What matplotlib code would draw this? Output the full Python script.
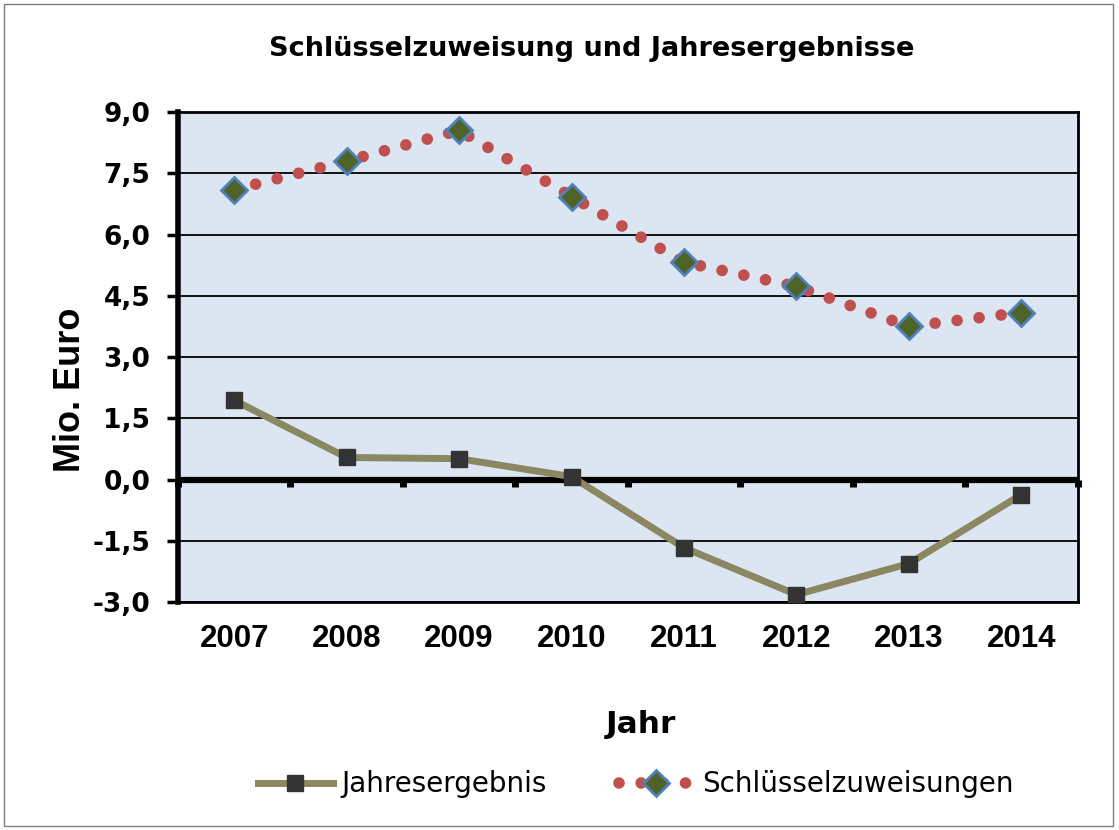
import matplotlib
matplotlib.use("Agg")
import matplotlib.pyplot as plt
from matplotlib.lines import Line2D
from matplotlib.patches import Rectangle
import numpy as np

plt.rcParams['font.family'] = ['Liberation Sans', 'DejaVu Sans']

jahre = ['2007', '2008', '2009', '2010', '2011', '2012', '2013', '2014']
schluessel = [7.1, 7.8, 8.55, 6.93, 5.32, 4.73, 3.75, 4.09]
ergebnis = [1.94, 0.54, 0.51, 0.07, -1.67, -2.82, -2.06, -0.37]
yticks = [-3.0, -1.5, 0.0, 1.5, 3.0, 4.5, 6.0, 7.5, 9.0]
ytick_labels = ['-3,0', '-1,5', '0,0', '1,5', '3,0', '4,5', '6,0', '7,5', '9,0']

x = np.arange(len(jahre)) + 0.5

fig = plt.figure(figsize=(11.19, 8.30), dpi=100)
ax = fig.add_axes([0.159, 0.2747, 0.804, 0.5903])
ax.set_facecolor('#dce6f2')

# outer frame of the chart
fig.patches.append(Rectangle((0.004, 0.005), 0.991, 0.99, transform=fig.transFigure,
                             fill=False, edgecolor='#7f7f7f', linewidth=1))

for y in yticks:
    ax.axhline(y, color='black', linewidth=1.3, zorder=1)
ax.axhline(0, color='black', linewidth=4.5, zorder=2)

dot_style = dict(color='#c0504d', linewidth=8.4, linestyle=(0, (0.001, 1.9)),
                 dash_capstyle='round')
dia_style = dict(linestyle='none', marker='D', markersize=13, markerfacecolor='#4f6228',
                 markeredgecolor='#4f81bd', markeredgewidth=2)
line_style = dict(color='#8a8762', linewidth=5, marker='s', markersize=11,
                  markerfacecolor='#333333', markeredgecolor='#333333')

ax.plot(x, schluessel, zorder=3, **dot_style)
ax.plot(x, schluessel, zorder=4, **dia_style)
ax.plot(x, ergebnis, zorder=3, **line_style)

ax.set_xlim(0, 8)
ax.set_ylim(-3, 9)
ax.set_yticks(yticks)
ax.set_yticklabels(ytick_labels, fontsize=19, fontweight='bold', family='DejaVu Sans')
ax.set_xticks(x)
ax.set_xticklabels(jahre, fontsize=22.5, fontweight='bold')
ax.tick_params(axis='x', length=0, pad=16)
ax.tick_params(axis='y', length=8, width=2.5, pad=12)

for s in ['top', 'bottom', 'right']:
    ax.spines[s].set_linewidth(2)
ax.spines['left'].set_linewidth(4)

# ticks on the zero line
sec = ax.secondary_xaxis(0.25)
sec.set_xticks(np.arange(0, 9))
sec.set_xticklabels([])
sec.tick_params(length=5, width=5, direction='out')
sec.spines['bottom'].set_linewidth(0)

ax.set_ylabel('Mio. Euro', fontsize=26, fontweight='bold')
ax.yaxis.set_label_coords(-0.1, 0.433)

fig.text(0.573, 0.117, 'Jahr', fontsize=22.5, fontweight='bold', family='DejaVu Sans',
         ha='center', va='baseline')
fig.text(0.529, 0.932, 'Schlüsselzuweisung und Jahresergebnisse', fontsize=19.5,
         fontweight='bold', family='DejaVu Sans', ha='center', va='baseline')

h1 = Line2D([], [], **line_style)
h2 = (Line2D([], [], **dot_style), Line2D([], [], **dia_style))
fig.legend([h1, h2], ['Jahresergebnis', 'Schlüsselzuweisungen'], loc='center',
           bbox_to_anchor=(0.568, 0.055), ncol=2, frameon=False,
           prop={'family': 'DejaVu Sans', 'size': 20},
           handlelength=2.7, columnspacing=2.6, handletextpad=0.3)

fig.savefig('out.png', dpi=100)
